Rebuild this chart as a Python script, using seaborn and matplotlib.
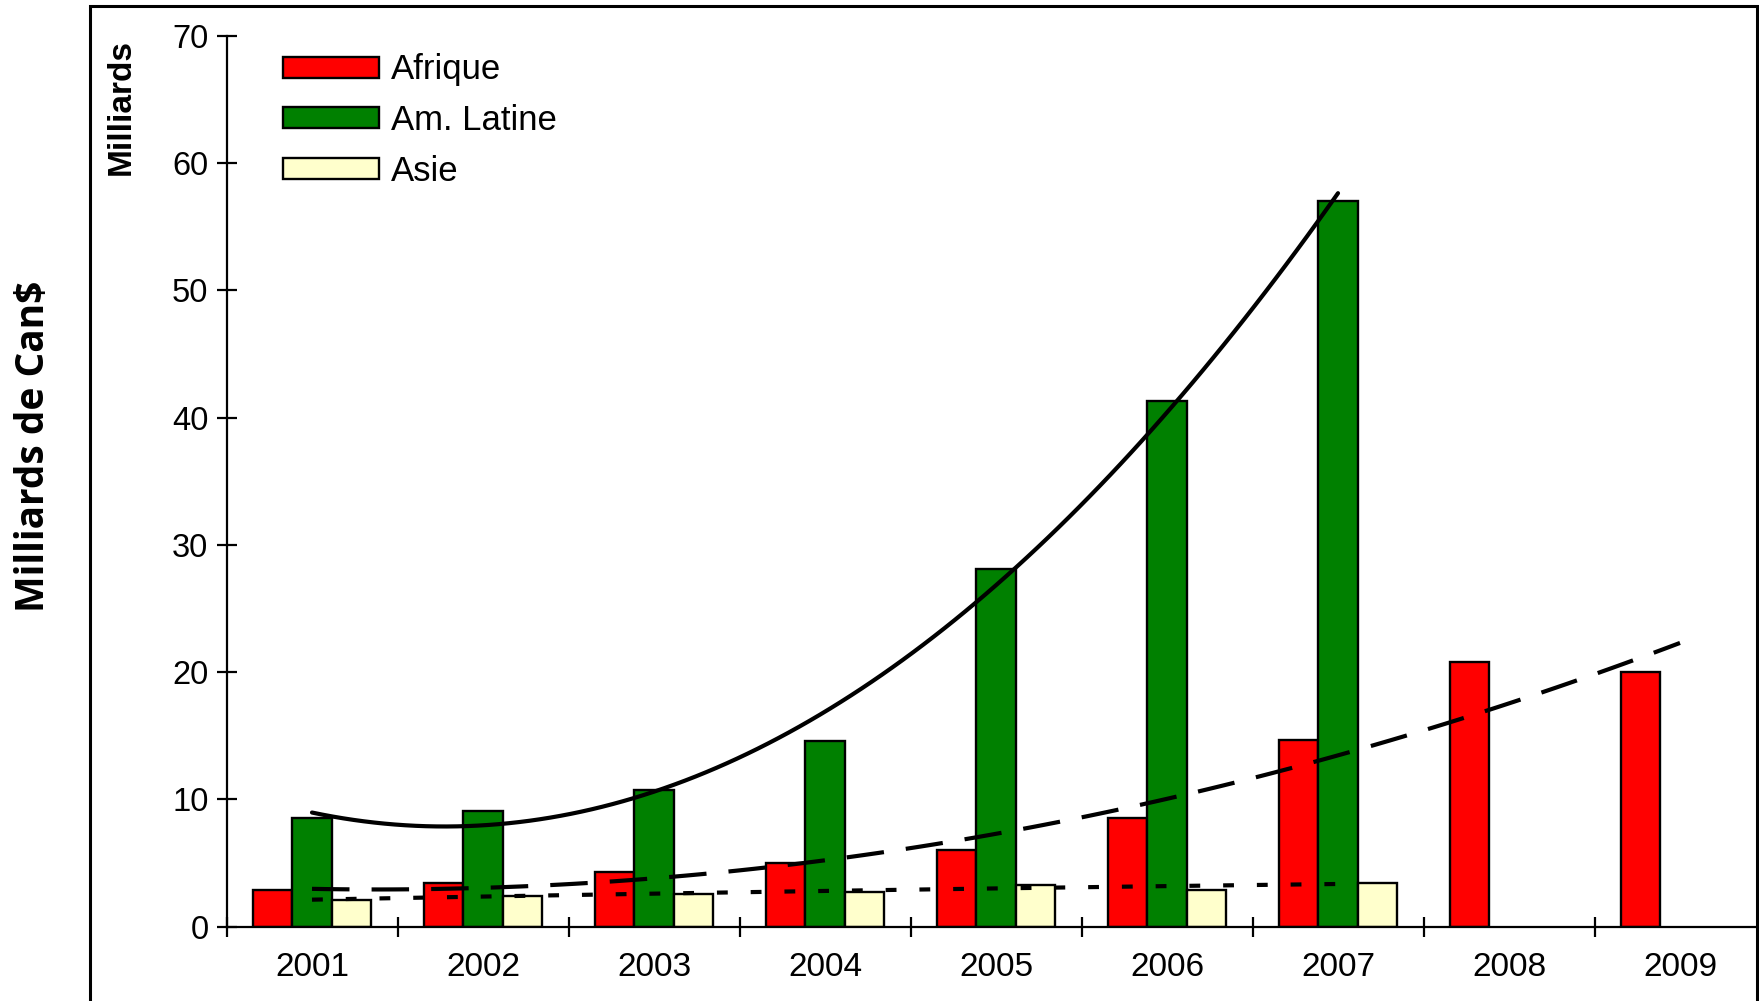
import numpy as np
import pandas as pd
import matplotlib
matplotlib.use("Agg")
import matplotlib.pyplot as plt
import seaborn as sns
from matplotlib.patches import Rectangle, Patch
from matplotlib.ticker import FixedLocator

# ---- data ----
years = ["2001", "2002", "2003", "2004", "2005", "2006", "2007", "2008", "2009"]
afrique = [2.9, 3.4, 4.3, 5.0, 6.0, 8.55, 14.7, 20.8, 20.0]
am_latine = [8.55, 9.1, 10.7, 14.55, 28.1, 41.3, 57.0, np.nan, np.nan]
asie = [2.1, 2.4, 2.55, 2.75, 3.25, 2.9, 3.45, np.nan, np.nan]
series_names = ["Afrique", "Am. Latine", "Asie"]
colors = ["#FF0000", "#008000", "#FFFFCC"]
yticks = [0, 10, 20, 30, 40, 50, 60, 70]

sns.set_theme(style="white")
plt.rcParams['font.family'] = ['Liberation Sans', 'DejaVu Sans']
plt.rcParams['text.color'] = 'black'
plt.rcParams['axes.labelcolor'] = 'black'
plt.rcParams['xtick.color'] = 'black'
plt.rcParams['ytick.color'] = 'black'

W, H = 1759, 1001
fig = plt.figure(figsize=(W / 100, H / 100), dpi=100)
ax_left, ax_bottom, ax_top = 226.5, 926.6, 35.9
cat_w = 171.0
ax = fig.add_axes([ax_left / W, (H - ax_bottom) / H, 9 * cat_w / W, (ax_bottom - ax_top) / H])

df = pd.DataFrame({"Année": years, "Afrique": afrique, "Am. Latine": am_latine, "Asie": asie})
long = df.melt(id_vars="Année", var_name="Série", value_name="Valeur").dropna()

sns.barplot(data=long, x="Année", y="Valeur", hue="Série", order=years,
            hue_order=series_names, palette=colors, saturation=1, width=0.69,
            edgecolor="black", linewidth=1.7, errorbar=None, legend=False, ax=ax)

xs = np.arange(len(years))
line_styles = {
    "Afrique": dict(dashes=(9, 5.3)),
    "Am. Latine": dict(linestyle="-"),
    "Asie": dict(dashes=(2.6, 5.5)),
}
for name, vals in zip(series_names, [afrique, am_latine, asie]):
    sns.regplot(x=xs.astype(float), y=np.array(vals, dtype=float), order=2, ci=None,
                scatter=False, truncate=True, color="black",
                line_kws=dict(lw=3, **line_styles[name]), ax=ax)

ax.set_xlim(-0.5, 8.5)
ax.set_ylim(0, 70)
ax.set_xlabel("")
ax.set_ylabel("")
ax.set_yticks(yticks)
ax.set_yticklabels([str(v) for v in yticks], fontsize=23.5)
ax.set_xticks(xs)
ax.set_xticklabels(years, fontsize=24)
ax.xaxis.set_minor_locator(FixedLocator(np.arange(-0.5, 9.0, 1.0)))
ax.tick_params(axis="x", which="major", bottom=True, length=0, pad=18, colors="black")
ax.tick_params(axis="x", which="minor", bottom=True, length=15, width=1.6,
               direction="inout", color="black")
ax.tick_params(axis="y", which="major", left=True, length=14, width=1.6,
               direction="inout", pad=6, colors="black")
for s in ["top", "right"]:
    ax.spines[s].set_visible(False)
for s in ["left", "bottom"]:
    ax.spines[s].set_color("black")
    ax.spines[s].set_linewidth(1.6)

handles = [Patch(facecolor=c, edgecolor="black", linewidth=1.7) for c in colors]
ax.legend(handles, series_names, loc="upper left", bbox_to_anchor=(283 / W, 1 - 53.5 / H),
          bbox_transform=fig.transFigure, frameon=False, fontsize=25,
          handlelength=2.77, handleheight=0.55, handletextpad=0.35,
          labelspacing=0.51, borderpad=0, borderaxespad=0, labelcolor="black")

fig.text(121 / W, 1 - 107 / H, "Milliards", rotation=90, ha="center", va="center",
         fontsize=24, fontweight="bold", color="black")
fig.text(34 / W, 1 - 446 / H, "Milliards de Can$", rotation=90, ha="center", va="center",
         fontsize=28, fontweight="bold", color="black",
         family=["Open Sans", "DejaVu Sans"])

fig.add_artist(Rectangle((90 / W, -0.05), (1757 - 90) / W, 1.05 - 6 / H,
                         transform=fig.transFigure, fill=False, lw=2.2,
                         edgecolor="black"))

fig.savefig("out.png", dpi=100)
